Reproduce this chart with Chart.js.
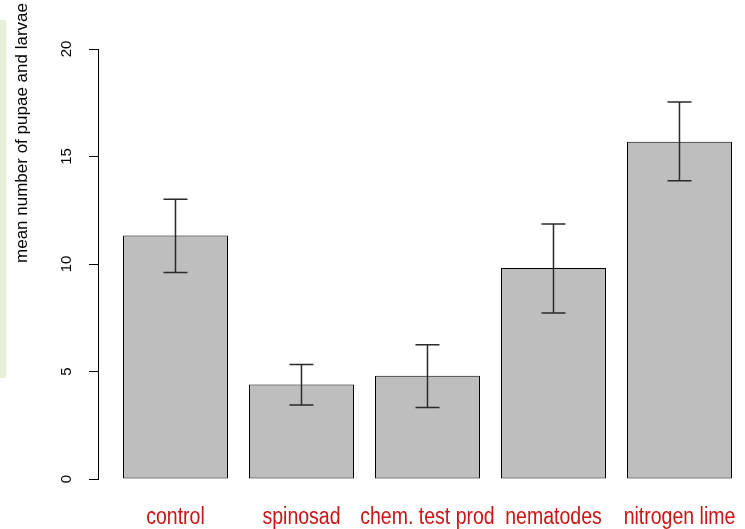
<!DOCTYPE html>
<html>
<head>
<meta charset="utf-8">
<script src="https://cdn.jsdelivr.net/npm/chart.js@4/dist/chart.umd.min.js"></script>
<style>
  html, body { margin: 0; padding: 0; background: #ffffff; }
  #wrap { position: relative; width: 745px; height: 529px; overflow: hidden; }
  #strip { position: absolute; left: 0; top: 20px; width: 6px; height: 358px; background: #e9f0d8; }
  #chart { position: absolute; left: 0; top: 0; }
</style>
</head>
<body>
<div id="wrap">
  <div id="strip"></div>
  <canvas id="chart" width="745" height="529"></canvas>
</div>
<script>
// Treatments and their mean counts with upper / lower error limits
const categories = ['control', 'spinosad', 'chem. test prod', 'nematodes', 'nitrogen lime'];
const means = [11.32, 4.40, 4.80, 9.81, 15.69];
const upper = [13.01, 5.33, 6.25, 11.86, 17.53];
const lower = [9.61, 3.44, 3.33, 7.72, 13.87];
const yTicks = [0, 5, 10, 15, 20];
const yTitle = 'mean number of pupae and larvae';

// Error bars with short caps, drawn over the bars
const errorBars = {
  id: 'errorBars',
  afterDatasetsDraw(chart) {
    const ctx = chart.ctx;
    const y = chart.scales.y;
    const meta = chart.getDatasetMeta(0);
    ctx.save();
    ctx.strokeStyle = '#2a2a2a';
    ctx.lineWidth = 1.5;
    meta.data.forEach((bar, i) => {
      const x = bar.x;
      const yHi = y.getPixelForValue(upper[i]);
      const yLo = y.getPixelForValue(lower[i]);
      const cap = 12;
      ctx.beginPath();
      ctx.moveTo(x, yHi); ctx.lineTo(x, yLo);
      ctx.moveTo(x - cap, yHi); ctx.lineTo(x + cap, yHi);
      ctx.moveTo(x - cap, yLo); ctx.lineTo(x + cap, yLo);
      ctx.stroke();
    });
    ctx.restore();
  }
};

// Condensed red category names under each bar, plus the vertical axis title
const labels = {
  id: 'labels',
  afterDraw(chart) {
    const ctx = chart.ctx;
    const x = chart.scales.x;
    ctx.save();
    ctx.fillStyle = '#cc1414';
    ctx.font = '23.5px "Liberation Sans", Arial, sans-serif';
    ctx.textAlign = 'center';
    ctx.textBaseline = 'alphabetic';
    categories.forEach((c, i) => {
      ctx.save();
      ctx.translate(x.getPixelForValue(i), x.top + 45);
      ctx.scale(0.83, 1);
      ctx.fillText(c, 0, 0);
      ctx.restore();
    });
    ctx.restore();

    ctx.save();
    ctx.translate(22, 133);
    ctx.rotate(-Math.PI / 2);
    ctx.fillStyle = '#000000';
    ctx.font = '17px "Liberation Sans", Arial, sans-serif';
    ctx.textAlign = 'center';
    ctx.textBaseline = 'middle';
    ctx.fillText(yTitle, 0, 0);
    ctx.restore();
  }
};

new Chart(document.getElementById('chart'), {
  type: 'bar',
  data: {
    datasets: [{
      data: categories.map((c, i) => ({ x: i, y: means[i] })),
      backgroundColor: '#bebebe',
      borderColor: '#000000',
      borderWidth: 1,
      borderSkipped: false,
      categoryPercentage: 1,
      barPercentage: 105 / 126
    }]
  },
  options: {
    responsive: false,
    animation: false,
    devicePixelRatio: 1,
    layout: { padding: { top: 49, right: 0, left: 0, bottom: 0 } },
    plugins: { legend: { display: false }, tooltip: { enabled: false } },
    scales: {
      x: {
        type: 'linear',
        offset: false,
        min: -0.615,
        max: 4.52,
        afterFit(scale) { scale.height = 50; },
        afterBuildTicks(scale) { scale.ticks = categories.map((c, i) => ({ value: i })); },
        grid: { display: false },
        border: { display: false },
        ticks: { display: false }
      },
      y: {
        min: 0,
        max: 20,
        afterFit(scale) { scale.width = 98; },
        afterBuildTicks(scale) { scale.ticks = yTicks.map(v => ({ value: v })); },
        grid: { drawOnChartArea: false, drawTicks: true, tickLength: 9, color: '#000000', lineWidth: 1 },
        border: { display: true, color: '#000000', width: 1 },
        ticks: {
          minRotation: 90,
          maxRotation: 90,
          crossAlign: 'center',
          padding: 14,
          color: '#000000',
          font: { family: '"Liberation Sans", Arial, sans-serif', size: 15 }
        }
      }
    }
  },
  plugins: [errorBars, labels]
});
</script>
</body>
</html>
